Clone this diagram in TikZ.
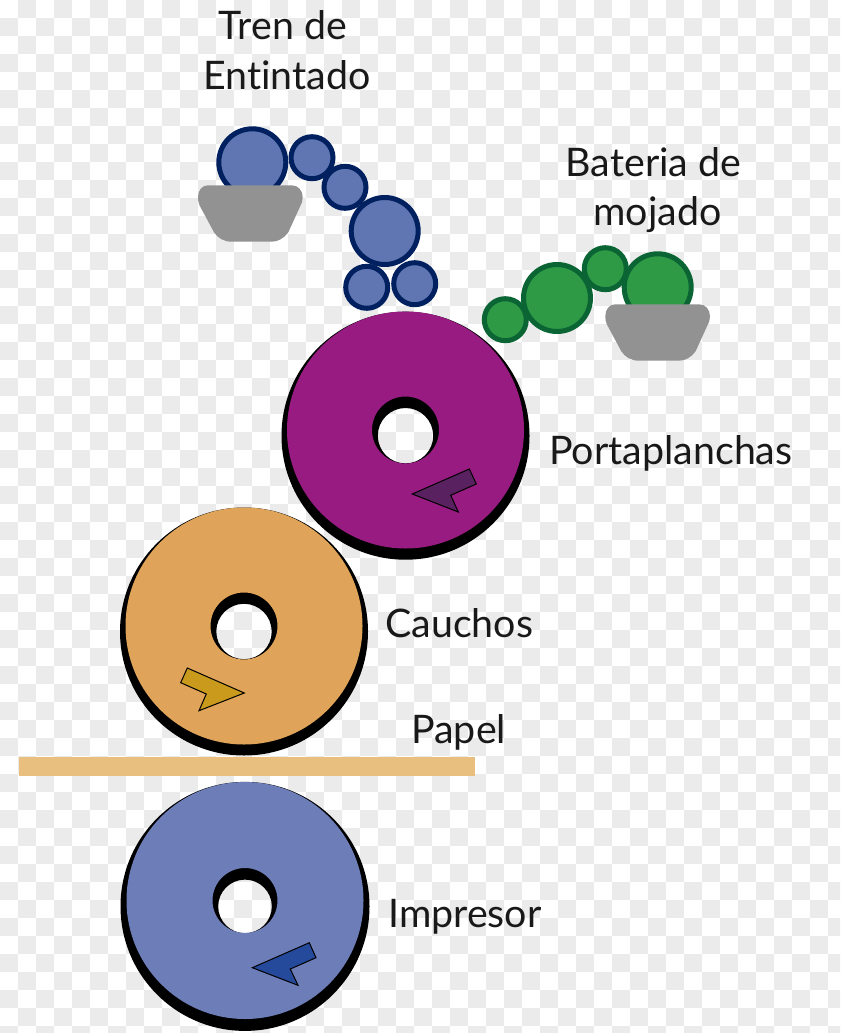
\documentclass[tikz,border=0pt]{standalone}
\usepackage{fontspec}
\setmainfont[Ligatures=NoCommon]{Lato}
\definecolor{damero}{HTML}{EBEBEB}
\definecolor{tinta}{HTML}{5F76B2}
\definecolor{tintaborde}{HTML}{00205F}
\definecolor{agua}{HTML}{2E9A45}
\definecolor{aguaborde}{HTML}{0A6433}
\definecolor{bandeja}{HTML}{929292}
\definecolor{porta}{HTML}{971B81}
\definecolor{portamarca}{HTML}{5A2160}
\definecolor{caucho}{HTML}{DFA359}
\definecolor{cauchomarca}{HTML}{C99A1C}
\definecolor{impresor}{HTML}{6C7DB7}
\definecolor{impresormarca}{HTML}{25499B}
\definecolor{papel}{HTML}{E9BF7F}
\tikzset{
    rodillo/.style={circle,inner sep=0pt,line width=0.1cm},
    grande/.style={rodillo,minimum size=1.34cm},
    chico/.style={rodillo,minimum size=0.84cm},
    marca/.style={draw=black,line width=0.02cm,line join=miter},
    rotulo/.style={anchor=base,inner sep=0pt,font=\fontsize{22.4}{28}\selectfont,text=black!90}
}
\begin{document}
\begin{tikzpicture}[x=0.02cm,y=-0.02cm]
            \useasboundingbox (0,0) rectangle (840,1033);
            \fill[white] (0,0) rectangle (840,1033);

            %%%%%%%%%%%%%%%%%%%%%%%%%%%%%%%%%%%
            % fondo
            \begin{scope}
            \clip (0,0) rectangle (840,1033);
            \foreach \i in {0,...,46}
                \foreach \j in {0,...,57} {
                    \pgfmathtruncatemacro{\suma}{\i+\j}
                    \ifodd\suma
                        \fill[damero] (18*\i,18*\j) rectangle ++(18,18);
                    \fi
                }
            \end{scope}
            %%%%%%%%%%%%%%%%%%%%%%%%%%%%%%%%%%%

            % tren de entintado
            \node[grande,fill=tinta,draw=tintaborde] (t1) at (252.3, 162.3) {};
            \node[chico,fill=tinta,draw=tintaborde] (t2) at (312.0, 157.7) {};
            \node[chico,fill=tinta,draw=tintaborde] (t3) at (345.0, 187.3) {};
            \node[grande,fill=tinta,draw=tintaborde] (t4) at (384.7, 231.0) {};
            \node[chico,fill=tinta,draw=tintaborde] (t5) at (366.7, 287.3) {};
            \node[chico,fill=tinta,draw=tintaborde] (t6) at (414.7, 283.7) {};
            \fill[bandeja,shift={(198, 185.3)}]
                (10, 0) -- (93.7, 0) .. controls (100, 0) and (104.7, 5) .. (104.7, 12)
                .. controls (104.7, 14) and (104.7, 15) .. (104, 17) -- (90.3, 47)
                .. controls (86, 53) and (80, 56.4) .. (73.7, 56.4) -- (33.7, 56.4)
                .. controls (26, 56.4) and (20, 53) .. (16, 47) -- (1.5, 20)
                .. controls (0.3, 17) and (0, 15) .. (0, 12)
                .. controls (0, 5) and (4, 0) .. (10, 0) -- cycle;

            % bateria de mojado
            \node[chico,fill=agua,draw=aguaborde] (m1) at (505.3, 319.7) {};
            \node[grande,fill=agua,draw=aguaborde] (m2) at (557.0, 298.0) {};
            \node[chico,fill=agua,draw=aguaborde] (m3) at (605.3, 268.7) {};
            \node[grande,fill=agua,draw=aguaborde] (m4) at (657.7, 287.3) {};
            \fill[bandeja,shift={(605.3, 304.3)}]
                (10, 0) -- (93.7, 0) .. controls (100, 0) and (104.7, 5) .. (104.7, 12)
                .. controls (104.7, 14) and (104.7, 15) .. (104, 17) -- (90.3, 47)
                .. controls (86, 53) and (80, 56.4) .. (73.7, 56.4) -- (33.7, 56.4)
                .. controls (26, 56.4) and (20, 53) .. (16, 47) -- (1.5, 20)
                .. controls (0.3, 17) and (0, 15) .. (0, 12)
                .. controls (0, 5) and (4, 0) .. (10, 0) -- cycle;

            %%%%%%%%%%%%%%%%%%%%%%%%%%%%%%%%%%%
            % impresor
            \fill[black,even odd rule] (245, 906.4) circle (124.5) (245, 906.4) circle (26.8);
            \fill[impresor,even odd rule] (245, 900.5) circle (118.5) (245, 900.5) circle (32.5);
            \filldraw[fill=impresormarca,marca]
                (252.3, 967.7) -- (309.3, 942.7) -- (316.0, 957.7) -- (290.3, 969.0) -- (298.0, 985.3) -- cycle;

            % cauchos
            \fill[black,even odd rule] (244, 631.5) circle (124) (244, 631.5) circle (27.7);
            \fill[caucho,even odd rule] (244, 626) circle (118.5) (244, 626) circle (33.5);
            \filldraw[fill=cauchomarca,marca]
                (244.3, 693.0) -- (187.3, 668.0) -- (180.7, 682.7) -- (206.3, 694.0) -- (199.0, 710.7) -- cycle;

            % portaplanchas
            \fill[black,even odd rule] (405.5, 435.7) circle (124) (405.5, 435.7) circle (27.7);
            \fill[porta,even odd rule] (405.5, 430) circle (118.5) (405.5, 430) circle (33.5);
            \filldraw[fill=portamarca,marca]
                (412.3, 494.0) -- (469.3, 469.0) -- (476.3, 484.0) -- (450.7, 495.3) -- (458.3, 512.0) -- cycle;
            %%%%%%%%%%%%%%%%%%%%%%%%%%%%%%%%%%%

            % papel
            \fill[papel] (19, 756.7) rectangle (475, 775.7);

            % rotulos
            \node[rotulo] (tren) at (283, 40) {Tren de};
            \node[rotulo] (entintado) at (287, 90) {Entintado};
            \node[rotulo] (bateria) at (653.5, 177) {Bateria de};
            \node[rotulo] (mojado) at (657.5, 226) {mojado};
            \node[rotulo,anchor=base west] (portaplanchas) at (549, 464) {Portaplanchas};
            \node[rotulo,anchor=base west] (cauchos) at (385, 637) {Cauchos};
            \node[rotulo,anchor=base west] (pap) at (411, 743) {Papel};
            \node[rotulo,anchor=base west] (impr) at (388, 927) {Impresor};
        \end{tikzpicture}
\end{document}
